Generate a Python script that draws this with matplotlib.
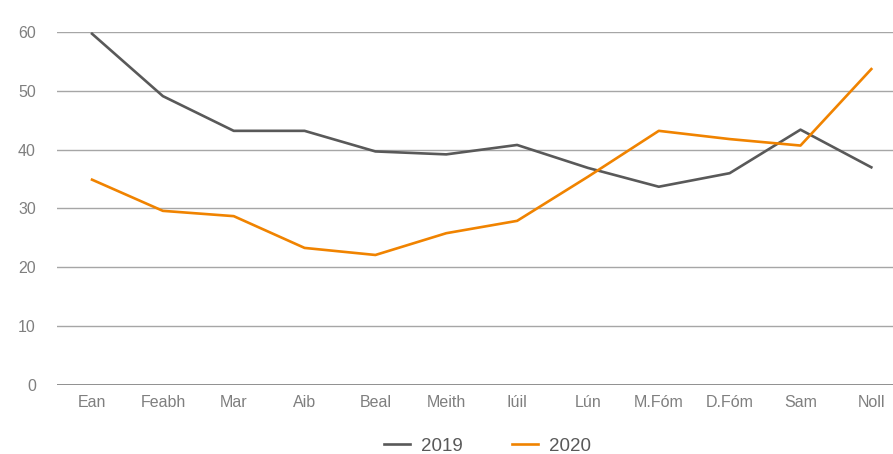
import matplotlib
matplotlib.use("Agg")
import matplotlib.pyplot as plt
import numpy as np

plt.rcParams['font.family'] = ['Liberation Sans', 'DejaVu Sans']

months = ["Ean", "Feabh", "Mar", "Aib", "Beal", "Meith", "Iúil", "Lún",
          "M.Fóm", "D.Fóm", "Sam", "Noll"]
vals_2019 = [59.7, 49.1, 43.2, 43.2, 39.7, 39.2, 40.8, 36.9, 33.7, 36.0, 43.4, 37.0]
vals_2020 = [34.9, 29.6, 28.7, 23.3, 22.1, 25.8, 27.9, 35.4, 43.2, 41.8, 40.7, 53.7]
yticks = [0, 10, 20, 30, 40, 50, 60]

fig = plt.figure(figsize=(8.93, 4.54), dpi=100)
ax = fig.add_axes([0.0634, 0.152, 0.952, 0.7775])

x = np.arange(len(months))
ax.plot(x, vals_2019, color="#595959", lw=1.9, label="2019")
ax.plot(x, vals_2020, color="#F08300", lw=1.9, label="2020")

ax.set_xlim(-0.5, len(months) - 0.5)
ax.set_ylim(0, 60)
ax.set_yticks(yticks)
ax.set_xticks(x)
ax.set_xticklabels(months)
ax.yaxis.grid(True, color="#a6a6a6", lw=1)
ax.set_axisbelow(True)
for s in ax.spines.values():
    s.set_visible(False)
ax.axhline(0, color="#808080", lw=1.2, zorder=1)
ax.tick_params(axis="both", length=0, labelsize=11.5, labelcolor="#7f7f7f")
ax.tick_params(axis="y", pad=15)
ax.tick_params(axis="x", pad=7)

leg = fig.legend(loc="center", bbox_to_anchor=(0.546, 0.017), ncol=2, frameon=False,
                 fontsize=13.5, handlelength=1.4, handletextpad=0.6,
                 columnspacing=2.6, borderaxespad=0)
for t in leg.get_texts():
    t.set_color("#595959")

fig.savefig("out.png", dpi=100)
